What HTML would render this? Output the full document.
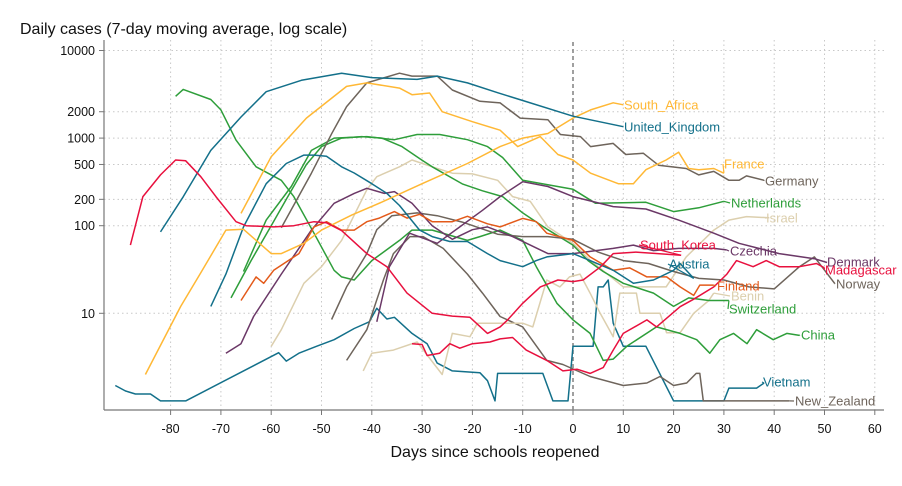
<!DOCTYPE html>
<html><head><meta charset="utf-8"><style>
html,body{margin:0;padding:0;background:#fff;}
svg{display:block;font-family:"Liberation Sans",Arial,sans-serif;}
</style></head><body>
<svg id="chart" width="902" height="486" viewBox="0 0 902 486" xmlns="http://www.w3.org/2000/svg">
<text x="20" y="34" font-size="16" fill="#111">Daily cases (7-day moving average, log scale)</text>
<text x="495" y="457" font-size="16" text-anchor="middle" fill="#111">Days since schools reopened</text>
<g id="grid"></g><g id="axes"></g><g id="series"></g><g id="labels"></g>
</svg>
<script>
const xTicks=[-80,-70,-60,-50,-40,-30,-20,-10,0,10,20,30,40,50,60];
const yTicks=[10,100,200,500,1000,2000,10000];
const yTickLabels=["10","100","200","500","1000","2000","10000"];

const ukDays=[-82,-77.5,-72,-66,-61,-54,-46,-40,-31,-27,-21,-15,-10,0,10];
const ukVals=[85,214,724,1740,3390,4570,5500,4900,4680,5100,4270,3300,2690,1780,1350];
const saDays=[-85,-78,-74,-69,-65.5,-60,-58,-53.5,-50,-44,-38,-30,-21,-14.5,-10,-5,0,3.5,8,10];
const saVals=[2,12,29,89,91,48,48,63,89,132,186,302,513,800,1000,1130,1690,2100,2530,2400];
const frDays=[-66,-60,-53,-45,-41,-34.5,-32,-28.5,-26,-20,-14.5,-11,-6.5,-3,0,3.5,9,12,14.5,18.5,21,23,25,28,30];
const frVals=[138,614,1690,3890,4270,3720,3130,3270,2000,1540,1230,800,1040,650,562,398,302,302,436,562,690,450,436,450,398];
const deDays=[-58,-52,-48,-45,-41,-34.5,-32,-27,-24,-18.5,-14.5,-10.5,-5,-2.5,1.5,3.5,8,10.5,14,17,22.5,25,28,31,33,34.5,38];
const deVals=[95,398,1120,2290,4270,5500,5100,5100,3540,2630,2520,1690,1620,1100,1040,800,870,650,670,490,450,380,417,330,330,370,330];
const nlDays=[-65.5,-61,-56,-52,-47.5,-41,-35.5,-31,-26.5,-21,-17,-14,-10,0,4.5,14.5,20,25,30];
const nlVals=[30,116,280,724,1000,1040,960,1100,1100,960,800,600,330,260,180,185,145,160,190];
const chDays=[-68,-64,-60,-57,-53,-50,-46,-42,-38,-34,-30,-28,-22,-18,-14,-10,-5,0,3,6,10,16,20,23,27,31];
const chVals=[15,40,100,200,500,800,1000,1040,1000,800,560,470,300,250,215,140,90,60,40,30,22,17,12,15,14,14];
const cnDays=[-79,-77.5,-72,-70,-67,-63,-58,-55.5,-51.5,-47.5,-46,-43.5,-40,-34.5,-32,-28,-21,-18.5,-14.5,-10,-7.3,-3.2,0,3.4,6,8,10.7,16.6,21.3,24.6,27.2,29.2,31.9,34.6,36.5,39.8,42.5,45];
const cnVals=[3000,3600,2760,2100,950,470,330,215,82,31,26,24,40,68,89,89,68,75,89,68,34,13,8.4,5.9,2.9,3,4.2,7,5.9,5,3.5,5,5.9,4.5,6.5,5,5.9,5.6];
const ilDays=[-60,-58,-53.5,-50,-46,-41,-39,-34.5,-32,-28,-24,-20,-15,-12,-8.5,-5,0,3.5,10,18.5,22.5,28,31,34.5,39];
const ilVals=[4.2,6.5,22,34,68,257,363,470,562,470,398,390,330,215,190,97,63,40,20,20,44,89,116,127,123];
const bjDays=[-41.7,-40,-35.7,-31,-26,-24,-20.5,-19,-16,-10,-8,-5.2,-2.6,-0.7,1.4,3.4,5.4,8,9.3,12.6,13.3,17.3,18.6,21.3,24,27,28];
const bjVals=[2.2,3.5,3.8,4.7,2,5.9,5.4,7.7,7.7,7.7,7,24,20,26,28,17,10,5.4,17,17,10,10,6,6,10,14,17];
const czDays=[-69,-66,-63.5,-58,-52,-47.5,-43.5,-41,-37.5,-35.5,-32,-28,-24,-20,-17,-12,-5,0,8,12,16,21,28,30.5];
const czVals=[3.5,4.5,9.2,28,89,180,234,267,234,245,180,100,70,90,97,75,48,48,55,60,52,55,55,53];
const dkDays=[-39,-36.5,-32.5,-27,-22.5,-18,-14.5,-10,-5,0,8,14.5,21,28,33,41,48,50.5];
const dkVals=[8,34,82,63,97,150,215,318,280,215,165,155,116,82,63,48,42,38];
const atDays=[-72,-69,-65.5,-61,-57,-53.5,-51.5,-49,-46,-43.5,-40,-37,-34.5,-30.5,-28,-24.5,-21,-17,-14.5,-10,-7.3,-5.2,0,3.4,8,12,16,20,21.3,24];
const atVals=[12,28,97,302,513,640,640,620,470,400,302,234,170,89,75,66,66,48,40,34,40,44,48,40,31,22,24,31,37,25];
const fiDays=[-66,-63,-61.5,-59.5,-54.5,-51.5,-49,-46,-43.5,-41,-38.5,-35.5,-33,-30.5,-28,-24,-21,-17,-14.5,-10,-7.3,-5.2,0,3.4,8,11.3,14.7,18.6,21.3,24,25.2,28];
const fiVals=[14,26,22,31,48,97,111,89,89,111,122,145,122,135,111,111,128,105,97,121,111,82,68,44,31,33,26,26,20,16,21,21];
const krDays=[-88,-85.5,-82,-79,-77,-74,-71,-67,-65,-59.5,-55.5,-51.5,-49,-46,-41,-37,-33,-28,-24,-20.5,-17,-14.5,-13,-10,-6.5,-3,0,2,5.5,8,12.5,21.5];
const krVals=[60,215,380,562,550,363,215,111,100,97,100,111,108,88,48,34,17,10,9.3,9,5.9,7,8.4,13,20,24,23,24,34,48,50,46];
const mgDays=[-32,-30,-29,-26.5,-24.5,-22.5,-20,-16.5,-14.5,-12,-9.3,-5.2,-2,0.8,3.4,6,8,10,14.7,16.6,21.3,24,28,30.6,32.5,35.8,38.4,41,45,48.4,50];
const mgVals=[4.5,4.4,3.3,3.5,4.5,4,4.5,4.7,5.1,5.3,3.8,2.9,2.2,2.3,2.06,2.4,3.8,5.9,8.4,7,11.9,14.5,20,28,40,34,40,34,34,37,33];
const nzDays=[-45,-41,-37.7,-35.7,-32.4,-29.8,-25.8,-21,-18,-14.5,-10,-5.2,-2,3.4,10,14.7,17.3,20,22.6,24.5,25.2,25.9,43];
const nzVals=[2.9,6.5,24,48,75,75,55,28,17,9.2,7,2.9,2.6,1.9,1.5,1.6,1.9,1.5,1.6,2.06,2.06,1,1];
const noDays=[-48,-45,-41,-39,-36,-31,-27,-22,-15,-10,-5,0,5,10,15,20,25,30,35,40,45,48,52];
const noVals=[8.5,20,48,90,130,140,130,110,80,75,75,70,50,40,37,30,25,24,20,19,34,44,22];
const vnDays=[-91,-89,-87,-84,-82,-77,-58.5,-57,-54.5,-51,-47.5,-43.5,-40.5,-39,-37,-35.5,-32,-29,-27,-24,-18.5,-17,-15.5,-15,-14,-6,-4,-1,0,4,5,6,7,8,10,14.5,20,30,31,36.5,38];
const vnVals=[1.5,1.3,1.2,1.2,1,1,3.55,2.85,3.5,4.2,5,6.7,8,11.4,8.6,9,5.9,4.5,2.7,2.2,2.1,1.7,1,2.06,2.06,2.06,1,1,4.2,4.2,20,20,24,7.7,4.2,4.2,1,1,1.4,1.4,1.6];

const TEAL="#13708a",YEL="#ffb835",GRY="#6e645b",GRN="#2e9e3a",BEI="#dccfae",PUR="#6b3867",RED="#e8103e",ORA="#e35a1a";
const seriesList=[
 ["Vietnam",vnDays,vnVals,TEAL,[763,382]],
 ["New_Zealand",nzDays,nzVals,GRY,[795,401]],
 ["Benin",bjDays,bjVals,BEI,[731,296]],
 ["Israel",ilDays,ilVals,BEI,[766,218]],
 ["China",cnDays,cnVals,GRN,[801,335]],
 ["Switzerland",chDays,chVals,GRN,[729,309]],
 ["Netherlands",nlDays,nlVals,GRN,[731,203]],
 ["Norway",noDays,noVals,GRY,[836,284]],
 ["Germany",deDays,deVals,GRY,[765,181]],
 ["Czechia",czDays,czVals,PUR,[730,251]],
 ["Denmark",dkDays,dkVals,PUR,[827,262]],
 ["Finland",fiDays,fiVals,ORA,[717,286]],
 ["Austria",atDays,atVals,TEAL,[669,264]],
 ["France",frDays,frVals,YEL,[724,164]],
 ["South_Africa",saDays,saVals,YEL,[624,105]],
 ["United_Kingdom",ukDays,ukVals,TEAL,[624,127]],
 ["Madagascar",mgDays,mgVals,RED,[825,270]],
 ["South_Korea",krDays,krVals,RED,[640,245]]
];

const NS="http://www.w3.org/2000/svg";
function xS(d){return 573+5.03*d;}
function yS(v){return 313.3-87.6*(Math.log10(v)-1);}
const L=104,R=884,T=40,B=410;
const grid=document.getElementById('grid'),axes=document.getElementById('axes'),ser=document.getElementById('series'),lab=document.getElementById('labels');
function mk(tag,attrs,parent){const e=document.createElementNS(NS,tag);for(const k in attrs)e.setAttribute(k,attrs[k]);parent.appendChild(e);return e;}

yTicks.forEach((v,i)=>{
  const y=yS(v);
  const g=mk('line',{x1:L,x2:R,y1:y,y2:y,stroke:"#c8c8c8","stroke-width":1,"stroke-dasharray":"1.5,3"},grid);
  
  
  const t=mk('line',{x1:L-5,x2:L,y1:y,y2:y,stroke:"#777","stroke-width":1},axes);
  
  
  const tx=mk('text',{x:L-9,y:y+4.5,"font-size":12.5,"text-anchor":"end",fill:"#111"},axes);
  tx.textContent=yTickLabels[i];
  
  
});
xTicks.forEach(d=>{
  const x=xS(d);
  if(d!==0){
    const g=mk('line',{x1:x,x2:x,y1:T,y2:B,stroke:"#c8c8c8","stroke-width":1,"stroke-dasharray":"1.5,3"},grid);
    
    
  }
  const t=mk('line',{x1:x,x2:x,y1:B,y2:B+5,stroke:"#777","stroke-width":1},axes);
  
  
  const tx=mk('text',{x:x,y:B+23,"font-size":12.5,"text-anchor":"middle",fill:"#111"},axes);
  tx.textContent=String(d);
  
  
});
const ya=mk('line',{x1:L,x2:L,y1:T,y2:B,stroke:"#777","stroke-width":1.2},axes);


const xa=mk('line',{x1:L,x2:R,y1:B,y2:B,stroke:"#777","stroke-width":1.2},axes);


const ref=mk('line',{x1:xS(0),x2:xS(0),y1:42,y2:B,stroke:"#888","stroke-width":1.6,"stroke-dasharray":"4,3"},axes);



seriesList.forEach(s=>{
  const [name,days,vals,col,lp]=s;
  const pts=days.map((d,i)=>xS(d).toFixed(1)+","+yS(vals[i]).toFixed(1)).join(" ");
  const pl=mk('polyline',{points:pts,fill:"none",stroke:col,"stroke-width":1.5,"stroke-linejoin":"round"},ser);
  
  
  const lx=xS(days[days.length-1]), ly=yS(vals[vals.length-1]);
  const c=mk('line',{x1:lx,y1:ly,x2:lp[0]-1,y2:lp[1],stroke:col,"stroke-width":1.2},lab);
  
  
  const t=mk('text',{x:lp[0],y:lp[1]+4.5,"font-size":13,fill:col},lab);
  t.textContent=name;
  
  
});
</script>
</body></html>
